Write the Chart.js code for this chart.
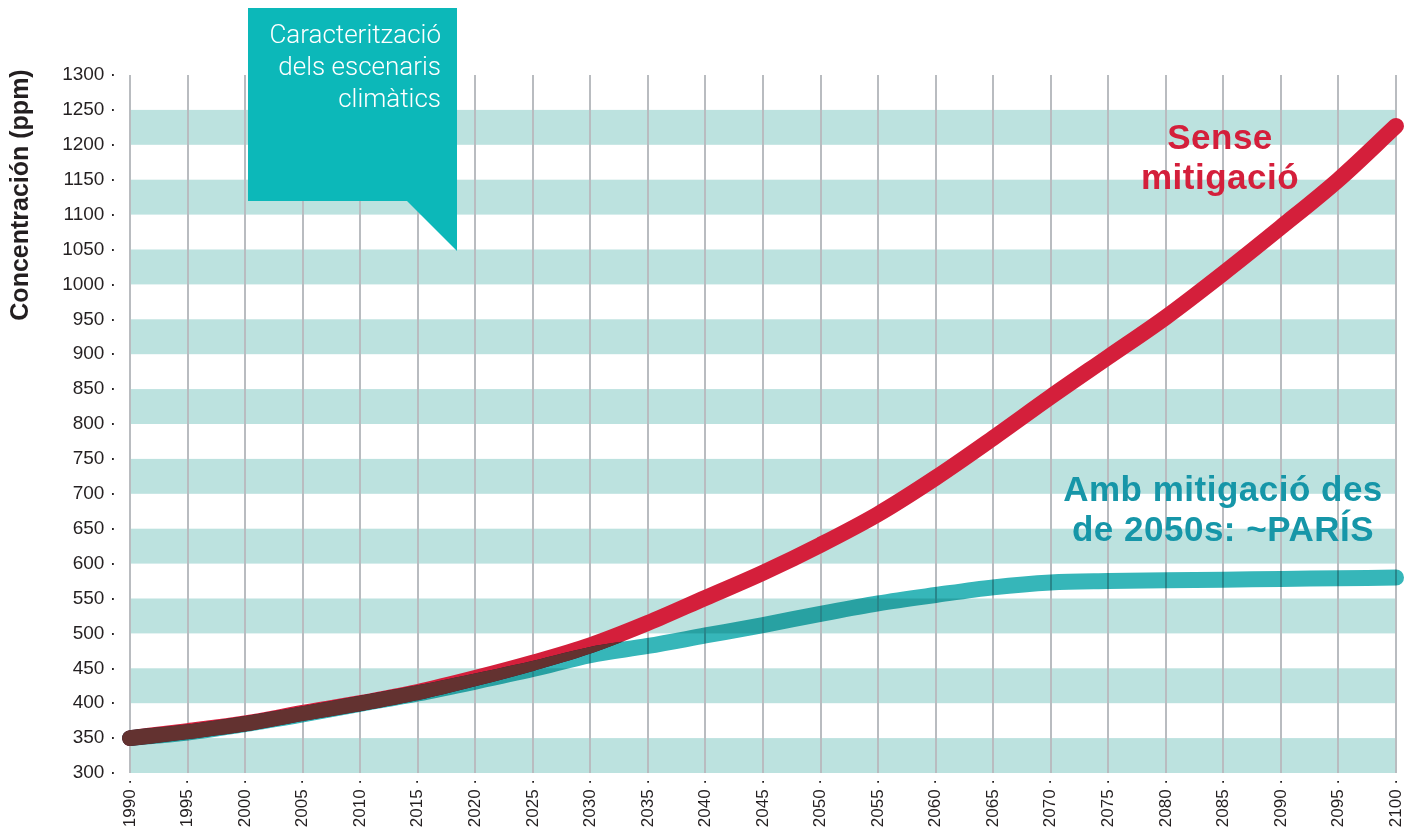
<!DOCTYPE html>
<html>
<head>
<meta charset="utf-8">
<script src="https://cdn.jsdelivr.net/npm/chart.js@4.4.1/dist/chart.umd.min.js"></script>
<style>
  html, body { margin: 0; padding: 0; background: #fff; }
  #wrap { width: 1414px; height: 832px; position: relative; }
</style>
</head>
<body>
<div id="wrap"><canvas id="chart"></canvas></div>
<script>
// Data
const years = [1990, 1995, 2000, 2005, 2010, 2015, 2020, 2025, 2030, 2035, 2040, 2045, 2050,
               2055, 2060, 2065, 2070, 2075, 2080, 2085, 2090, 2095, 2100];
const noMitigation = [350, 360, 371, 386, 400, 416, 436, 458, 483, 515, 551, 587, 627,
                      671, 723, 780, 839, 896, 953, 1016, 1082, 1150, 1227];
const parisMitigation = [350, 358, 370, 384, 399, 414, 431, 449, 469, 482, 497, 512, 528,
                         543, 555, 566, 573, 575, 576, 577, 578, 579, 580];
const bandStarts = [300, 400, 500, 600, 700, 800, 900, 1000, 1100, 1200];
const bandSize = 50;

const yTitle = 'Concentración (ppm)';
const calloutLines = ['Caracterització', 'dels escenaris', 'climàtics'];
const redLabel = ['Sense', 'mitigació'];
const tealLabel = ['Amb mitigació des', 'de 2050s: ~PARÍS'];

const RED = '#d41f3b';
const TEAL = '#36b6b9';
const OVERLAP = '#633230';
const TEAL_TEXT = '#1696a8';
const BAND = '#bce2df';
const TEXT = '#231f20';

const toPoints = (vals) => years.map((y, i) => ({ x: y, y: vals[i] }));

// Light bands behind the grid
const bandsPlugin = {
    id: 'bands',
    beforeDraw(chart) {
        const { ctx, chartArea, scales } = chart;
        ctx.save();
        ctx.fillStyle = BAND;
        bandStarts.forEach(start => {
            const top = scales.y.getPixelForValue(start + bandSize);
            const bottom = scales.y.getPixelForValue(start);
            ctx.fillRect(chartArea.left, top, chartArea.right - chartArea.left, bottom - top);
        });
        ctx.restore();
    }
};

// Teal line multiplied over what lies beneath; where both lines overlap, paint brown
const blendPlugin = {
    id: 'blend',
    beforeDatasetDraw(chart, args) {
        if (args.index === 1) {
            chart.ctx.save();
            chart.ctx.globalCompositeOperation = 'multiply';
        }
    },
    afterDatasetDraw(chart, args) {
        if (args.index === 1) chart.ctx.restore();
    },
    afterDatasetsDraw(chart) {
        const off = document.createElement('canvas');
        off.width = chart.width;
        off.height = chart.height;
        const octx = off.getContext('2d');
        chart.getDatasetMeta(0).dataset.draw(octx, chart.chartArea);
        octx.globalCompositeOperation = 'source-in';
        chart.getDatasetMeta(1).dataset.draw(octx, chart.chartArea);
        octx.fillStyle = OVERLAP;
        octx.fillRect(0, 0, off.width, off.height);
        chart.ctx.drawImage(off, 0, 0, chart.width, chart.height);
    }
};

// Callout box, series labels and axis title
const notesPlugin = {
    id: 'notes',
    afterDraw(chart) {
        const ctx = chart.ctx;
        ctx.save();

        // callout
        ctx.fillStyle = '#0cb8b9';
        ctx.beginPath();
        ctx.moveTo(248, 8);
        ctx.lineTo(457, 8);
        ctx.lineTo(457, 251);
        ctx.lineTo(407, 201);
        ctx.lineTo(248, 201);
        ctx.closePath();
        ctx.fill();
        ctx.fillStyle = '#ffffff';
        ctx.font = '300 26px Roboto, "Liberation Sans", sans-serif';
        ctx.textAlign = 'right';
        ctx.textBaseline = 'alphabetic';
        calloutLines.forEach((t, i) => ctx.fillText(t, 441, 43 + i * 32));

        // series labels
        ctx.textAlign = 'center';
        ctx.font = 'bold 35px "Liberation Sans", Arial, sans-serif';
        ctx.letterSpacing = '0.5px';
        ctx.fillStyle = RED;
        redLabel.forEach((t, i) => ctx.fillText(t, 1220, 149 + i * 40));
        ctx.fillStyle = TEAL_TEXT;
        tealLabel.forEach((t, i) => ctx.fillText(t, 1223, 501 + i * 40));
        ctx.letterSpacing = '0px';

        // y title
        ctx.translate(28, 195);
        ctx.rotate(-Math.PI / 2);
        ctx.fillStyle = TEXT;
        ctx.font = 'bold 25px "Liberation Sans", Arial, sans-serif';
        ctx.textAlign = 'center';
        ctx.fillText(yTitle, 0, 0);
        ctx.restore();
    }
};

new Chart(document.getElementById('chart'), {
    type: 'line',
    data: {
        datasets: [
            {
                label: redLabel.join(' '),
                data: toPoints(noMitigation),
                borderColor: RED,
                borderWidth: 16,
                borderCapStyle: 'round',
                borderJoinStyle: 'round',
                pointRadius: 0,
                cubicInterpolationMode: 'monotone',
                clip: false,
                order: 1
            },
            {
                label: tealLabel.join(' '),
                data: toPoints(parisMitigation),
                borderColor: TEAL,
                borderWidth: 16,
                borderCapStyle: 'round',
                borderJoinStyle: 'round',
                pointRadius: 0,
                cubicInterpolationMode: 'monotone',
                clip: false,
                order: 0
            }
        ]
    },
    options: {
        responsive: true,
        maintainAspectRatio: false,
        animation: false,
        layout: { padding: { left: 0, right: 18, top: 75, bottom: 0 } },
        plugins: {
            legend: { display: false },
            tooltip: { enabled: false }
        },
        scales: {
            x: {
                type: 'linear',
                min: 1990,
                max: 2100,
                afterFit: (scale) => {
                    scale.height = 59;
                    scale.paddingLeft = 0;
                    scale.paddingRight = 0;
                },
                ticks: {
                    stepSize: 5,
                    autoSkip: false,
                    maxRotation: 90,
                    minRotation: 90,
                    padding: 6,
                    color: TEXT,
                    font: { family: '"Liberation Sans", Arial, sans-serif', size: 17 },
                    callback: (v) => v + ' ·'
                },
                grid: { color: '#b9bcc0', lineWidth: 2, drawTicks: false },
                border: { display: false }
            },
            y: {
                min: 300,
                max: 1300,
                afterFit: (scale) => { scale.width = 130; },
                ticks: {
                    stepSize: 50,
                    autoSkip: false,
                    padding: 14,
                    color: TEXT,
                    font: { family: '"Liberation Sans", Arial, sans-serif', size: 19 },
                    callback: (v) => v + ' ·'
                },
                grid: { display: false, drawTicks: false },
                border: { display: false }
            }
        }
    },
    plugins: [bandsPlugin, blendPlugin, notesPlugin]
});
</script>
</body>
</html>
